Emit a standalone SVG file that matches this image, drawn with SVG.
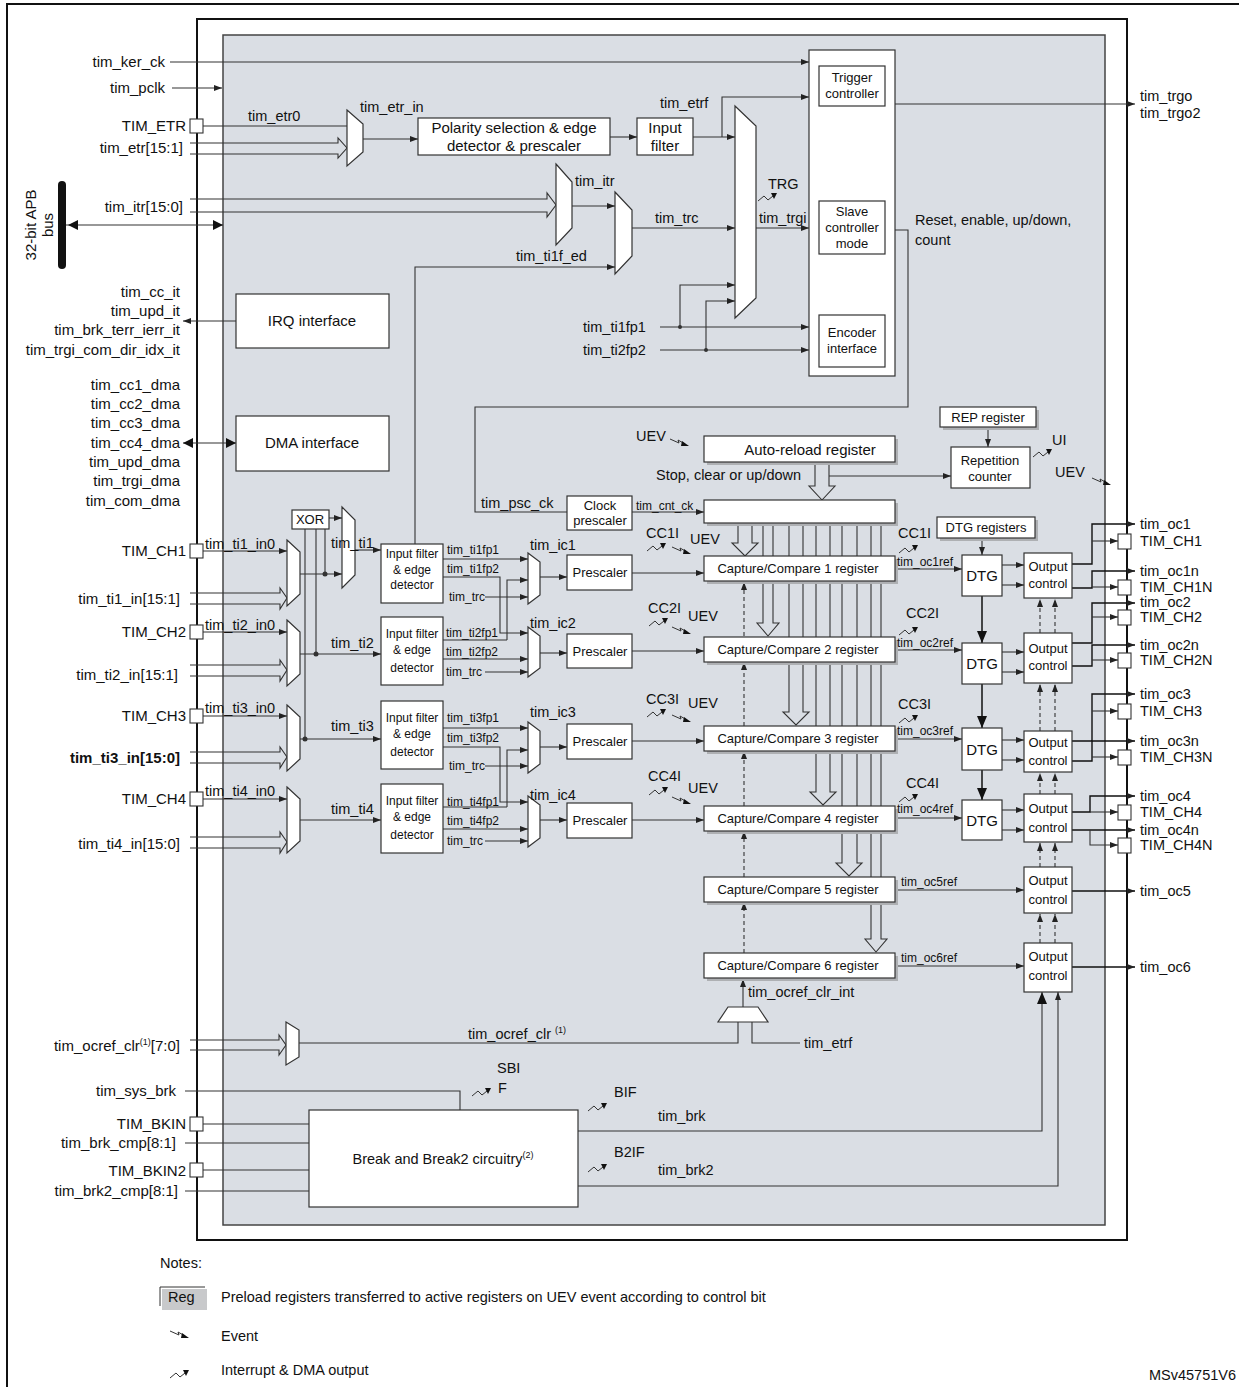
<svg xmlns="http://www.w3.org/2000/svg" xmlns:xlink="http://www.w3.org/1999/xlink" width="1239" height="1387" viewBox="0 0 1239 1387">
<style>
text{font-family:"Liberation Sans",Arial,sans-serif;fill:#111;font-size:14.5px}
.L{font-size:15px}.s{font-size:13px}.xs{font-size:12px}.e{text-anchor:end}.m{text-anchor:middle}
.b{fill:#fff;stroke:#333;stroke-width:1.2}
.w{fill:none;stroke:#333;stroke-width:1.1}
.a{fill:none;stroke:#333;stroke-width:1.1;marker-end:url(#ar)}
.d{fill:none;stroke:#333;stroke-width:1.1;stroke-dasharray:4 3;marker-end:url(#ar)}
.h{fill:none;stroke:#333;stroke-width:1.1}
.o{fill:none;stroke:#111;stroke-width:1.4;marker-end:url(#ar)}
.sh{fill:#aeb0b3}
.pin{fill:#fff;stroke:#333;stroke-width:1.1}
</style>
<defs>
<marker id="ar" markerWidth="8" markerHeight="6" refX="8" refY="3" orient="auto" markerUnits="userSpaceOnUse"><path d="M0,0 L8,3 L0,6z" fill="#222"/></marker>
<marker id="ab" markerWidth="12" markerHeight="10" refX="12" refY="5" orient="auto" markerUnits="userSpaceOnUse"><path d="M0,0 L12,5 L0,10z" fill="#111"/></marker>
<g id="irq"><path d="M0,5 L6,0 L10,4 L15,0" fill="none" stroke="#333" stroke-width="1"/><path d="M13,-3 L19,-3 L16,3z" fill="#111"/></g>
<g id="evt"><path d="M0,0 L9,4 L8,1 L15,5" fill="none" stroke="#333" stroke-width="1"/><path d="M12,2 L19,7 L11,7z" fill="#111"/></g>
</defs>
<rect width="1239" height="1387" fill="#fff"/>
<path d="M7,1387 V4 H1239" fill="none" stroke="#111" stroke-width="2"/>
<rect x="197" y="19" width="930" height="1221" fill="#fff" stroke="#111" stroke-width="2"/>
<rect x="223" y="35" width="882" height="1190" fill="#dadee4" stroke="#444" stroke-width="1.5"/>

<g id="connectors">
<path class="a" d="M170,62 H809"/>
<path class="a" d="M172,88 H222"/>
<path class="w" d="M203,126 H347"/>
<path class="h" d="M190,143 H338 V138 L347,148 L338,158 V154 H190"/>
<path class="a" d="M363,139 H418"/>
<path class="a" d="M610,137 H637"/>
<path class="a" d="M693,137 H735"/>
<path class="a" d="M722,137 V97 H809"/>
<path class="h" d="M190,199 H547 V193 L556,205 L547,217 V212 H190"/>
<path class="a" d="M572,206 H615"/>
<path class="a" d="M415,544 V267 H615"/>
<path class="a" d="M632,228 H735"/>
<path class="a" d="M756,228 H809"/>
<path class="a" d="M660,327 H809"/><path class="a" d="M680,327 V285 H735"/>
<path class="a" d="M660,350 H809"/><path class="a" d="M706,350 V301 H735"/>
<circle cx="680" cy="327" r="2" fill="#333"/><circle cx="706" cy="350" r="2" fill="#333"/>
<path class="a" d="M895,104 H1135"/>
<path class="w" d="M895,230 H908 V407 H475 V512 H567"/>
<path class="w" d="M62,225 H223"/>
<path d="M68,225 l10,-5 v10z M223,225 l-10,-5 v10z" fill="#111"/>
<path class="a" d="M236,321 H183"/>
<path class="w" d="M183,443 H236"/>
<path d="M183,443 l10,-5 v10z M236,443 l-10,-5 v10z" fill="#111"/>
<path class="a" d="M632,512 H704"/>
<path class="h" d="M815,462 V486 H809 L822,500 L835,486 H829 V462"/>
<path class="a" d="M829,476 H951"/>
<path class="a" d="M988,427 V447"/>
<path class="h" d="M738,523 V543 H732 L745,556 L758,543 H752 V523"/>
<path class="h" d="M763,523 V623 H757 L768,636 L779,623 H773 V523"/>
<path class="h" d="M789,523 V712 H783 L796,725 L809,712 H803 V523"/>
<path class="h" d="M816,523 V792 H810 L823,805 L836,792 H830 V523"/>
<path class="h" d="M842,523 V863 H836 L849,876 L862,863 H857 V523"/>
<path class="h" d="M871,523 V939 H865 L876,952 L887,939 H881 V523"/>
<path class="a" d="M203,551 H287"/>
<path class="h" d="M190,593 H280 V588 L287,598 L280,609 V604 H190"/>
<path class="a" d="M203,632 H287"/>
<path class="h" d="M190,665 H280 V660 L287,670 L280,681 V676 H190"/>
<path class="a" d="M203,716 H287"/>
<path class="h" d="M190,752 H280 V747 L287,757 L280,768 V763 H190"/>
<path class="a" d="M203,799 H287"/>
<path class="h" d="M190,837 H280 V832 L287,842 L280,853 V848 H190"/>
<path class="a" d="M300,574 H342"/>
<path class="a" d="M329,518 H342"/>
<path class="w" d="M305,529 V739 M316,529 V654 M325,529 V574"/>
<circle cx="325" cy="574" r="2.5" fill="#333"/><circle cx="316" cy="654" r="2.5" fill="#333"/><circle cx="305" cy="739" r="2.5" fill="#333"/>
<path class="a" d="M355,550 H381"/>
<path class="a" d="M300,654 H381"/>
<path class="a" d="M300,739 H381"/>
<path class="a" d="M300,820 H381"/>
<path class="a" d="M443,559 H528"/>
<path class="a" d="M443,577 H500 V633 H528"/>
<path class="a" d="M507,640 V580 H528"/><path class="w" d="M443,640 H507"/>
<path class="a" d="M485,597 H528"/>
<path class="a" d="M443,659 H528"/>
<path class="a" d="M485,672 H528"/>
<path class="a" d="M443,728 H528"/>
<path class="a" d="M443,747 H500 V802 H528"/>
<path class="a" d="M507,807 V750 H528"/><path class="w" d="M443,807 H507"/>
<path class="a" d="M485,766 H528"/>
<path class="a" d="M443,829 H528"/>
<path class="a" d="M485,841 H528"/>
<path class="a" d="M540,577 H567"/><path class="a" d="M540,653 H567"/><path class="a" d="M540,747 H567"/><path class="a" d="M540,820 H567"/>
<path class="a" d="M632,573 H704"/><path class="a" d="M632,651 H704"/><path class="a" d="M632,741 H704"/><path class="a" d="M632,820 H704"/>
<path class="a" d="M895,569 H962"/><path class="a" d="M895,650 H962"/><path class="a" d="M895,739 H962"/><path class="a" d="M895,818 H962"/>
<path class="a" d="M895,890 H1024"/><path class="a" d="M895,966 H1024"/>
<path class="a" d="M982,538 V555"/>
<path style="fill:none;stroke:#111;stroke-width:1.5;marker-end:url(#ab)" d="M982,596 V643"/>
<path style="fill:none;stroke:#111;stroke-width:1.5;marker-end:url(#ab)" d="M982,684 V728"/>
<path style="fill:none;stroke:#111;stroke-width:1.5;marker-end:url(#ab)" d="M982,770 V800"/>
<path class="a" d="M1002,565 H1024"/><path class="a" d="M1002,585 H1024"/>
<path class="a" d="M1002,652 H1024"/><path class="a" d="M1002,672 H1024"/>
<path class="a" d="M1002,740 H1024"/><path class="a" d="M1002,760 H1024"/>
<path class="a" d="M1002,810 H1024"/><path class="a" d="M1002,830 H1024"/>
<path class="d" d="M744,636 V582"/><path class="d" d="M744,726 V662"/><path class="d" d="M744,806 V751"/><path class="d" d="M744,877 V831"/><path class="d" d="M744,953 V902"/>
<path class="d" d="M1040,633 V599"/><path class="d" d="M1055,633 V599"/>
<path class="d" d="M1040,731 V684"/><path class="d" d="M1055,731 V684"/>
<path class="d" d="M1040,794 V773"/><path class="d" d="M1055,794 V773"/>
<path class="d" d="M1040,867 V843"/><path class="d" d="M1055,867 V843"/>
<path class="d" d="M1040,943 V914"/><path class="d" d="M1055,943 V914"/>
<path class="o" d="M1072,564 H1092 V524 H1135"/><path class="a" d="M1092,541 H1118"/>
<path class="o" d="M1072,588 H1092 V571 H1135"/><path class="a" d="M1092,587 H1118"/>
<path class="o" d="M1072,643 H1092 V603 H1135"/><path class="a" d="M1092,617 H1118"/>
<path class="o" d="M1072,666 H1092 V645 H1135"/><path class="a" d="M1092,660 H1118"/>
<path class="o" d="M1072,741 H1092 V694 H1135"/><path class="a" d="M1092,711 H1118"/>
<path class="o" d="M1072,761 H1092 V741 H1135"/><path class="a" d="M1092,757 H1118"/>
<path class="o" d="M1072,812 H1090 V796 H1135"/><path class="a" d="M1090,812 H1118"/>
<path class="o" d="M1072,830 H1135"/><path class="a" d="M1090,830 V845 H1118"/>
<path class="o" d="M1072,891 H1135"/>
<path class="o" d="M1072,967 H1135"/>
<path class="h" d="M190,1040 H279 V1035 L286,1045 L279,1055 V1050 H190"/>
<path class="w" d="M299,1043 H738 V1022"/>
<path class="w" d="M800,1043 H752 V1022"/>
<path class="a" d="M743,1007 V979"/>
<path class="w" d="M185,1091 H460 V1110"/>
<path class="w" d="M203,1124 H309"/><path class="w" d="M185,1143 H309"/><path class="w" d="M203,1170 H309"/><path class="w" d="M185,1191 H309"/>
<path style="fill:none;stroke:#333;stroke-width:1.1;marker-end:url(#ab)" d="M578,1131 H1042 V992"/>
<path class="a" d="M578,1186 H1058 V992"/>
</g>

<g id="apb"><rect x="58" y="181" width="8" height="88" rx="4" fill="#111"/>
<text transform="translate(36,225) rotate(-90)" class="m L">32-bit APB</text><text transform="translate(53,225) rotate(-90)" class="m L">bus</text></g>

<g id="labels-left" class="L">
<text x="165" y="67" class="e L">tim_ker_ck</text>
<text x="165" y="93" class="e L">tim_pclk</text>
<text x="186" y="131" class="e L">TIM_ETR</text>
<text x="183" y="153" class="e L">tim_etr[15:1]</text>
<text x="183" y="212" class="e L">tim_itr[15:0]</text>
<text x="180" y="297" class="e L">tim_cc_it</text><text x="180" y="316" class="e L">tim_upd_it</text><text x="180" y="335" class="e L">tim_brk_terr_ierr_it</text><text x="180" y="355" class="e L">tim_trgi_com_dir_idx_it</text>
<text x="180" y="390" class="e L">tim_cc1_dma</text><text x="180" y="409" class="e L">tim_cc2_dma</text><text x="180" y="428" class="e L">tim_cc3_dma</text><text x="180" y="448" class="e L">tim_cc4_dma</text><text x="180" y="467" class="e L">tim_upd_dma</text><text x="180" y="486" class="e L">tim_trgi_dma</text><text x="180" y="506" class="e L">tim_com_dma</text>
<text x="186" y="556" class="e L">TIM_CH1</text><text x="180" y="604" class="e L">tim_ti1_in[15:1]</text>
<text x="186" y="637" class="e L">TIM_CH2</text><text x="178" y="680" class="e L">tim_ti2_in[15:1]</text>
<text x="186" y="721" class="e L">TIM_CH3</text><text x="180" y="763" class="e L" font-weight="bold">tim_ti3_in[15:0]</text>
<text x="186" y="804" class="e L">TIM_CH4</text><text x="180" y="849" class="e L">tim_ti4_in[15:0]</text>
<text x="180" y="1051" class="e L">tim_ocref_clr<tspan font-size="9" dy="-6">(1)</tspan><tspan dy="6">[7:0]</tspan></text>
<text x="176" y="1096" class="e L">tim_sys_brk</text>
<text x="186" y="1129" class="e L">TIM_BKIN</text>
<text x="176" y="1148" class="e L">tim_brk_cmp[8:1]</text>
<text x="186" y="1176" class="e L">TIM_BKIN2</text>
<text x="178" y="1196" class="e L">tim_brk2_cmp[8:1]</text>
</g>
<g id="pins">
<rect class="pin" x="190" y="119" width="13" height="14"/>
<rect class="pin" x="190" y="544" width="13" height="14"/><rect class="pin" x="190" y="625" width="13" height="14"/><rect class="pin" x="190" y="709" width="13" height="14"/><rect class="pin" x="190" y="792" width="13" height="14"/>
<rect class="pin" x="190" y="1117" width="13" height="14"/><rect class="pin" x="190" y="1163" width="13" height="14"/>
<rect class="pin" x="1118" y="534" width="13" height="15"/><rect class="pin" x="1118" y="580" width="13" height="15"/><rect class="pin" x="1118" y="610" width="13" height="15"/><rect class="pin" x="1118" y="653" width="13" height="15"/><rect class="pin" x="1118" y="704" width="13" height="15"/><rect class="pin" x="1118" y="750" width="13" height="15"/><rect class="pin" x="1118" y="805" width="13" height="15"/><rect class="pin" x="1118" y="838" width="13" height="15"/>
</g>

<g id="muxes">
<polygon class="b" points="347,110 363,124 363,152 347,166"/>
<polygon class="b" points="735,106 756,126 756,298 735,318"/>
<polygon class="b" points="556,164 572,182 572,228 556,245"/>
<polygon class="b" points="615,192 632,210 632,256 615,274"/>
<polygon class="b" points="342,507 355,520 355,575 342,588"/>
<polygon class="b" points="287,540 300,552 300,594 287,606"/>
<polygon class="b" points="287,620 300,632 300,674 287,686"/>
<polygon class="b" points="287,705 300,717 300,759 287,771"/>
<polygon class="b" points="287,787 300,799 300,841 287,853"/>
<polygon class="b" points="528,553 540,562 540,595 528,604"/>
<polygon class="b" points="528,627 540,636 540,668 528,677"/>
<polygon class="b" points="528,722 540,731 540,764 528,773"/>
<polygon class="b" points="528,796 540,805 540,838 528,847"/>
<polygon class="b" points="286,1022 299,1030 299,1057 286,1065"/>
<polygon class="b" points="728,1007 758,1007 768,1022 718,1022"/>
</g>

<g id="trigger-block">
<rect class="b" x="809" y="50" width="86" height="326"/>
<rect class="b" x="819" y="66" width="66" height="40"/><text x="852" y="82" class="m s">Trigger</text><text x="852" y="98" class="m s">controller</text>
<rect class="b" x="819" y="201" width="66" height="53"/><text x="852" y="216" class="m s">Slave</text><text x="852" y="232" class="m s">controller</text><text x="852" y="248" class="m s">mode</text>
<rect class="b" x="819" y="315" width="66" height="52"/><text x="852" y="337" class="m s">Encoder</text><text x="852" y="353" class="m s">interface</text>
</g>
<g id="polarity"><rect class="b" x="418" y="118" width="192" height="37"/><text x="514" y="133" class="m L">Polarity selection &amp; edge</text><text x="514" y="151" class="m L">detector &amp; prescaler</text></g>
<g id="input-filter"><rect class="b" x="637" y="118" width="56" height="37"/><text x="665" y="133" class="m L">Input</text><text x="665" y="151" class="m L">filter</text></g>
<g id="irq-if"><rect class="b" x="236" y="294" width="153" height="54"/><text x="312" y="326" class="m L">IRQ interface</text></g>
<g id="dma-if"><rect class="b" x="236" y="416" width="153" height="55"/><text x="312" y="448" class="m L">DMA interface</text></g>
<g id="xor"><rect class="b" x="292" y="510" width="37" height="19"/><text x="310" y="524" class="m s">XOR</text></g>

<g id="filters">
<rect class="b" x="381" y="544" width="62" height="59"/><text x="412" y="558" class="m xs">Input filter</text><text x="412" y="574" class="m xs">&amp; edge</text><text x="412" y="589" class="m xs">detector</text>
<rect class="b" x="381" y="617" width="62" height="68"/><text x="412" y="638" class="m xs">Input filter</text><text x="412" y="654" class="m xs">&amp; edge</text><text x="412" y="672" class="m xs">detector</text>
<rect class="b" x="381" y="701" width="62" height="68"/><text x="412" y="722" class="m xs">Input filter</text><text x="412" y="738" class="m xs">&amp; edge</text><text x="412" y="756" class="m xs">detector</text>
<rect class="b" x="381" y="784" width="62" height="69"/><text x="412" y="805" class="m xs">Input filter</text><text x="412" y="821" class="m xs">&amp; edge</text><text x="412" y="839" class="m xs">detector</text>
</g>
<g id="prescalers">
<rect class="b" x="567" y="555" width="65" height="35"/><text x="600" y="577" class="m s">Prescaler</text>
<rect class="b" x="567" y="634" width="65" height="34"/><text x="600" y="656" class="m s">Prescaler</text>
<rect class="b" x="567" y="724" width="65" height="35"/><text x="600" y="746" class="m s">Prescaler</text>
<rect class="b" x="567" y="803" width="65" height="35"/><text x="600" y="825" class="m s">Prescaler</text>
</g>
<g id="clock-prescaler"><rect class="b" x="567" y="496" width="65" height="34"/><text x="600" y="510" class="m s">Clock</text><text x="600" y="525" class="m s">prescaler</text></g>

<g id="registers">
<rect class="sh" x="707" y="439" width="191" height="26"/><rect class="b" x="704" y="436" width="191" height="26"/><text x="810" y="455" class="m L">Auto-reload register</text>
<rect class="sh" x="707" y="503" width="191" height="23"/><rect class="b" x="704" y="500" width="191" height="23"/>
<rect class="sh" x="943" y="410" width="96" height="20"/><rect class="b" x="940" y="407" width="96" height="20"/><text x="988" y="422" class="m s">REP register</text>
<rect class="b" x="951" y="447" width="79" height="41"/><text x="990" y="465" class="m s">Repetition</text><text x="990" y="481" class="m s">counter</text>
<rect class="sh" x="940" y="520" width="98" height="21"/><rect class="b" x="937" y="517" width="98" height="21"/><text x="986" y="532" class="m s">DTG registers</text>
<rect class="sh" x="707" y="559" width="191" height="25"/><rect class="b" x="704" y="556" width="191" height="25"/><text x="798" y="573" class="m s">Capture/Compare 1 register</text>
<rect class="sh" x="707" y="640" width="191" height="25"/><rect class="b" x="704" y="637" width="191" height="25"/><text x="798" y="654" class="m s">Capture/Compare 2 register</text>
<rect class="sh" x="707" y="729" width="191" height="25"/><rect class="b" x="704" y="726" width="191" height="25"/><text x="798" y="743" class="m s">Capture/Compare 3 register</text>
<rect class="sh" x="707" y="809" width="191" height="25"/><rect class="b" x="704" y="806" width="191" height="25"/><text x="798" y="823" class="m s">Capture/Compare 4 register</text>
<rect class="sh" x="707" y="880" width="191" height="25"/><rect class="b" x="704" y="877" width="191" height="25"/><text x="798" y="894" class="m s">Capture/Compare 5 register</text>
<rect class="sh" x="707" y="956" width="191" height="25"/><rect class="b" x="704" y="953" width="191" height="25"/><text x="798" y="970" class="m s">Capture/Compare 6 register</text>
</g>
<g id="dtg">
<rect class="b" x="962" y="555" width="40" height="41"/><text x="982" y="581" class="m L">DTG</text>
<rect class="b" x="962" y="643" width="40" height="41"/><text x="982" y="669" class="m L">DTG</text>
<rect class="b" x="962" y="728" width="40" height="42"/><text x="982" y="755" class="m L">DTG</text>
<rect class="b" x="962" y="800" width="40" height="40"/><text x="982" y="826" class="m L">DTG</text>
</g>
<g id="output-control">
<rect class="b" x="1024" y="553" width="48" height="45"/><text x="1048" y="571" class="m s">Output</text><text x="1048" y="588" class="m s">control</text>
<rect class="b" x="1024" y="633" width="48" height="50"/><text x="1048" y="653" class="m s">Output</text><text x="1048" y="670" class="m s">control</text>
<rect class="b" x="1024" y="731" width="48" height="41"/><text x="1048" y="747" class="m s">Output</text><text x="1048" y="765" class="m s">control</text>
<rect class="b" x="1024" y="794" width="48" height="48"/><text x="1048" y="813" class="m s">Output</text><text x="1048" y="832" class="m s">control</text>
<rect class="b" x="1024" y="867" width="48" height="46"/><text x="1048" y="885" class="m s">Output</text><text x="1048" y="904" class="m s">control</text>
<rect class="b" x="1024" y="943" width="48" height="49"/><text x="1048" y="961" class="m s">Output</text><text x="1048" y="980" class="m s">control</text>
</g>
<g id="break"><rect class="b" x="309" y="1110" width="269" height="97"/><text x="443" y="1164" class="m">Break and Break2 circuitry<tspan font-size="9" dy="-6">(2)</tspan></text></g>

<g id="labels">
<text x="248" y="121">tim_etr0</text>
<text x="360" y="112">tim_etr_in</text>
<text x="660" y="108">tim_etrf</text>
<text x="575" y="186">tim_itr</text>
<text x="655" y="223">tim_trc</text>
<text x="516" y="261">tim_ti1f_ed</text>
<text x="768" y="189">TRG</text><use href="#irq" x="758" y="196"/>
<text x="759" y="223">tim_trgi</text>
<text x="583" y="332">tim_ti1fp1</text>
<text x="583" y="355">tim_ti2fp2</text>
<text x="915" y="225">Reset, enable, up/down,</text>
<text x="915" y="245">count</text>
<text x="1140" y="101">tim_trgo</text><text x="1140" y="118">tim_trgo2</text>
<text x="636" y="441">UEV</text><use href="#evt" x="670" y="439"/>
<text x="656" y="480">Stop, clear or up/down</text>
<text x="1052" y="445">UI</text><use href="#irq" x="1033" y="452"/>
<text x="1055" y="477">UEV</text><use href="#evt" x="1092" y="478"/>
<text x="481" y="508">tim_psc_ck</text>
<text x="636" y="510" class="xs">tim_cnt_ck</text>
<text x="205" y="549">tim_ti1_in0</text>
<text x="205" y="630">tim_ti2_in0</text>
<text x="205" y="713">tim_ti3_in0</text>
<text x="205" y="796">tim_ti4_in0</text>
<text x="331" y="548">tim_ti1</text>
<text x="331" y="648">tim_ti2</text>
<text x="331" y="731">tim_ti3</text>
<text x="331" y="814">tim_ti4</text>
<text x="447" y="554" class="xs">tim_ti1fp1</text><text x="447" y="573" class="xs">tim_ti1fp2</text><text x="449" y="601" class="xs">tim_trc</text>
<text x="446" y="637" class="xs">tim_ti2fp1</text><text x="446" y="656" class="xs">tim_ti2fp2</text><text x="446" y="676" class="xs">tim_trc</text>
<text x="447" y="722" class="xs">tim_ti3fp1</text><text x="447" y="742" class="xs">tim_ti3fp2</text><text x="449" y="770" class="xs">tim_trc</text>
<text x="447" y="806" class="xs">tim_ti4fp1</text><text x="447" y="825" class="xs">tim_ti4fp2</text><text x="447" y="845" class="xs">tim_trc</text>
<text x="530" y="550">tim_ic1</text><text x="530" y="628">tim_ic2</text><text x="530" y="717">tim_ic3</text><text x="530" y="800">tim_ic4</text>
<text x="646" y="538">CC1I</text><use href="#irq" x="647" y="546"/><text x="690" y="544">UEV</text><use href="#evt" x="672" y="547"/>
<text x="648" y="613">CC2I</text><use href="#irq" x="649" y="621"/><text x="688" y="621">UEV</text><use href="#evt" x="672" y="627"/>
<text x="646" y="704">CC3I</text><use href="#irq" x="647" y="712"/><text x="688" y="708">UEV</text><use href="#evt" x="672" y="715"/>
<text x="648" y="781">CC4I</text><use href="#irq" x="649" y="790"/><text x="688" y="793">UEV</text><use href="#evt" x="672" y="797"/>
<text x="898" y="538">CC1I</text><use href="#irq" x="899" y="548"/><text x="897" y="566" class="xs">tim_oc1ref</text>
<text x="906" y="618">CC2I</text><use href="#irq" x="899" y="630"/><text x="897" y="647" class="xs">tim_oc2ref</text>
<text x="898" y="709">CC3I</text><use href="#irq" x="899" y="718"/><text x="897" y="735" class="xs">tim_oc3ref</text>
<text x="906" y="788">CC4I</text><use href="#irq" x="899" y="797"/><text x="897" y="813" class="xs">tim_oc4ref</text>
<text x="901" y="886" class="xs">tim_oc5ref</text>
<text x="901" y="962" class="xs">tim_oc6ref</text>
<text x="1140" y="529">tim_oc1</text><text x="1140" y="546">TIM_CH1</text>
<text x="1140" y="576">tim_oc1n</text><text x="1140" y="592">TIM_CH1N</text>
<text x="1140" y="607">tim_oc2</text><text x="1140" y="622">TIM_CH2</text>
<text x="1140" y="650">tim_oc2n</text><text x="1140" y="665">TIM_CH2N</text>
<text x="1140" y="699">tim_oc3</text><text x="1140" y="716">TIM_CH3</text>
<text x="1140" y="746">tim_oc3n</text><text x="1140" y="762">TIM_CH3N</text>
<text x="1140" y="801">tim_oc4</text><text x="1140" y="817">TIM_CH4</text>
<text x="1140" y="835">tim_oc4n</text><text x="1140" y="850">TIM_CH4N</text>
<text x="1140" y="896">tim_oc5</text>
<text x="1140" y="972">tim_oc6</text>
<text x="748" y="997">tim_ocref_clr_int</text>
<text x="804" y="1048">tim_etrf</text>
<text x="468" y="1039">tim_ocref_clr <tspan font-size="9" dy="-6">(1)</tspan></text>
<text x="497" y="1073">SBI</text><text x="498" y="1093">F</text><use href="#irq" x="472" y="1091"/>
<text x="614" y="1097">BIF</text><use href="#irq" x="588" y="1106"/>
<text x="658" y="1121">tim_brk</text>
<text x="614" y="1157">B2IF</text><use href="#irq" x="588" y="1167"/>
<text x="658" y="1175">tim_brk2</text>
</g>

<g id="notes">
<text x="160" y="1268">Notes:</text>
<rect x="162" y="1289" width="45" height="21" fill="#c8c9cb"/>
<path d="M160,1306 V1287 H205" fill="none" stroke="#333"/>
<text x="168" y="1302">Reg</text>
<text x="221" y="1302">Preload registers transferred to active registers on UEV event according to control bit</text>
<use href="#evt" x="170" y="1331"/><text x="221" y="1341">Event</text>
<use href="#irq" x="170" y="1373"/><text x="221" y="1375">Interrupt &amp; DMA output</text>
<text x="1236" y="1380" class="e">MSv45751V6</text>
</g>
</svg>
